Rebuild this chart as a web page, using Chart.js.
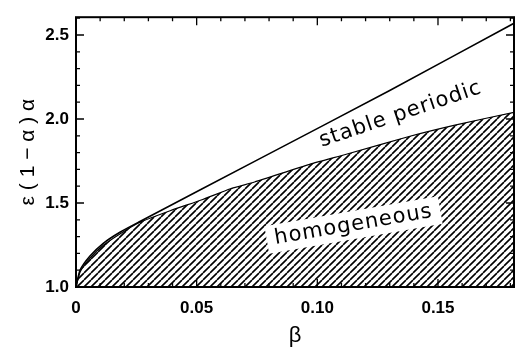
<!DOCTYPE html>
<html lang="en">
<head>
    <meta charset="UTF-8">
    <title>Stability diagram</title>
    <script src="https://cdn.jsdelivr.net/npm/chart.js"></script>
    <style>
        html, body { margin: 0; padding: 0; background: #ffffff; }
        .chart-container { position: relative; width: 515px; height: 349px; }
    </style>
</head>
<body>
    <div class="chart-container">
        <canvas id="phaseChart"></canvas>
    </div>

    <script>
        // lower boundary (hatched "homogeneous" region below it)
        const betaLower = [0, 0.0017, 0.0058, 0.0113, 0.0182, 0.0265, 0.039, 0.0525, 0.064, 0.074, 0.0968, 0.112, 0.138, 0.1575, 0.1815];
        const epsLower = [1.0, 1.09, 1.172, 1.248, 1.316, 1.385, 1.454, 1.521, 1.585, 1.625, 1.73, 1.79, 1.896, 1.965, 2.04];

        // upper boundary of the stable periodic band
        const betaUpper = [0, 0.0017, 0.0058, 0.0113, 0.0182, 0.0265, 0.075, 0.13, 0.1815];
        const epsUpper = [1.0, 1.10, 1.184, 1.26, 1.326, 1.39, 1.755, 2.17, 2.57];

        const xTickValues = [0, 0.05, 0.10, 0.15];
        const xTickLabels = ['0', '0.05', '0.10', '0.15'];
        const yTickValues = [1.0, 1.5, 2.0, 2.5];

        const regionLabels = [
            { text: 'stable periodic', x: 0.1345, y: 2.027, angle: -18.6, box: false },
            { text: 'homogeneous', x: 0.115, y: 1.369, angle: -9.8, box: true }
        ];

        function makeHatch() {
            const s = 7;
            const c = document.createElement('canvas');
            c.width = s;
            c.height = s;
            const g = c.getContext('2d');
            g.strokeStyle = '#000';
            g.lineWidth = 1.6;
            g.beginPath();
            for (let k = -1; k <= 1; k++) {
                g.moveTo(k * s, s);
                g.lineTo(k * s + s, 0);
            }
            g.stroke();
            return g.createPattern(c, 'repeat');
        }

        const toPoints = (xs, ys) => xs.map((x, i) => ({ x: x, y: ys[i] }));

        // frame, inward ticks and region labels
        const framePlugin = {
            id: 'frame',
            afterDraw(chart) {
                const ctx = chart.ctx;
                const a = chart.chartArea;
                const xs = chart.scales.x;
                const ys = chart.scales.y;
                ctx.save();
                ctx.strokeStyle = '#000';
                ctx.lineWidth = 1.3;
                ctx.beginPath();
                for (let i = 0; i <= 18; i++) {
                    const px = xs.getPixelForValue(i / 100);
                    const len = i % 5 === 0 ? 8 : 4;
                    ctx.moveTo(px, a.top); ctx.lineTo(px, a.top + len);
                    ctx.moveTo(px, a.bottom); ctx.lineTo(px, a.bottom - len);
                }
                for (let i = 10; i <= 26; i++) {
                    const py = ys.getPixelForValue(i / 10);
                    const len = i % 5 === 0 ? 8 : 4;
                    ctx.moveTo(a.left, py); ctx.lineTo(a.left + len, py);
                    ctx.moveTo(a.right, py); ctx.lineTo(a.right - len, py);
                }
                ctx.stroke();
                ctx.lineWidth = 2;
                ctx.strokeRect(a.left, a.top, a.right - a.left, a.bottom - a.top);

                ctx.font = '21px "DejaVu Sans"';
                ctx.letterSpacing = '1px';
                ctx.textAlign = 'center';
                ctx.textBaseline = 'middle';
                regionLabels.forEach(l => {
                    ctx.save();
                    ctx.translate(xs.getPixelForValue(l.x), ys.getPixelForValue(l.y));
                    ctx.rotate(l.angle * Math.PI / 180);
                    if (l.box) {
                        const w = ctx.measureText(l.text).width + 16;
                        ctx.fillStyle = '#fff';
                        ctx.fillRect(-w / 2, -14, w, 28);
                    }
                    ctx.fillStyle = '#000';
                    ctx.fillText(l.text, 0, 0);
                    ctx.restore();
                });
                ctx.restore();
            }
        };

        const canvas = document.getElementById('phaseChart');
        const hatch = makeHatch();

        new Chart(canvas, {
            type: 'line',
            data: {
                datasets: [
                    {
                        data: toPoints(betaLower, epsLower),
                        borderColor: '#000',
                        borderWidth: 1.2,
                        backgroundColor: hatch,
                        fill: 'start',
                        pointRadius: 0,
                        tension: 0.2
                    },
                    {
                        data: toPoints(betaUpper, epsUpper),
                        borderColor: '#000',
                        borderWidth: 1.6,
                        fill: false,
                        pointRadius: 0,
                        tension: 0.2
                    }
                ]
            },
            options: {
                responsive: true,
                maintainAspectRatio: false,
                animation: false,
                layout: { padding: { top: 8, right: 1, left: 0, bottom: 0 } },
                plugins: {
                    legend: { display: false },
                    tooltip: { enabled: false }
                },
                scales: {
                    x: {
                        type: 'linear',
                        min: 0,
                        max: 0.1815,
                        grid: { display: false, drawTicks: false },
                        border: { display: false },
                        afterBuildTicks: s => { s.ticks = xTickValues.map(v => ({ value: v })); },
                        afterFit: s => { s.height = 62; },
                        ticks: {
                            padding: 11,
                            color: '#000',
                            maxRotation: 0,
                            font: { family: 'Liberation Sans', size: 17, weight: 'bold' },
                            callback: v => xTickLabels[xTickValues.indexOf(v)]
                        },
                        title: {
                            display: true,
                            text: 'β',
                            color: '#000',
                            font: { family: 'Liberation Sans', size: 22 },
                            padding: { top: 0, bottom: 0 }
                        }
                    },
                    y: {
                        min: 1.0,
                        max: 2.606,
                        grid: { display: false, drawTicks: false },
                        border: { display: false },
                        afterBuildTicks: s => { s.ticks = yTickValues.map(v => ({ value: v })); },
                        afterFit: s => { s.width = 76; },
                        ticks: {
                            padding: 7,
                            color: '#000',
                            font: { family: 'Liberation Sans', size: 17, weight: 'bold' },
                            callback: v => v.toFixed(1)
                        },
                        title: {
                            display: true,
                            text: 'ε ( 1 − α ) α',
                            color: '#000',
                            font: { family: 'Liberation Sans', size: 21 },
                            padding: { top: 16, bottom: 0 }
                        }
                    }
                }
            },
            plugins: [framePlugin]
        });
    </script>
</body>
</html>
